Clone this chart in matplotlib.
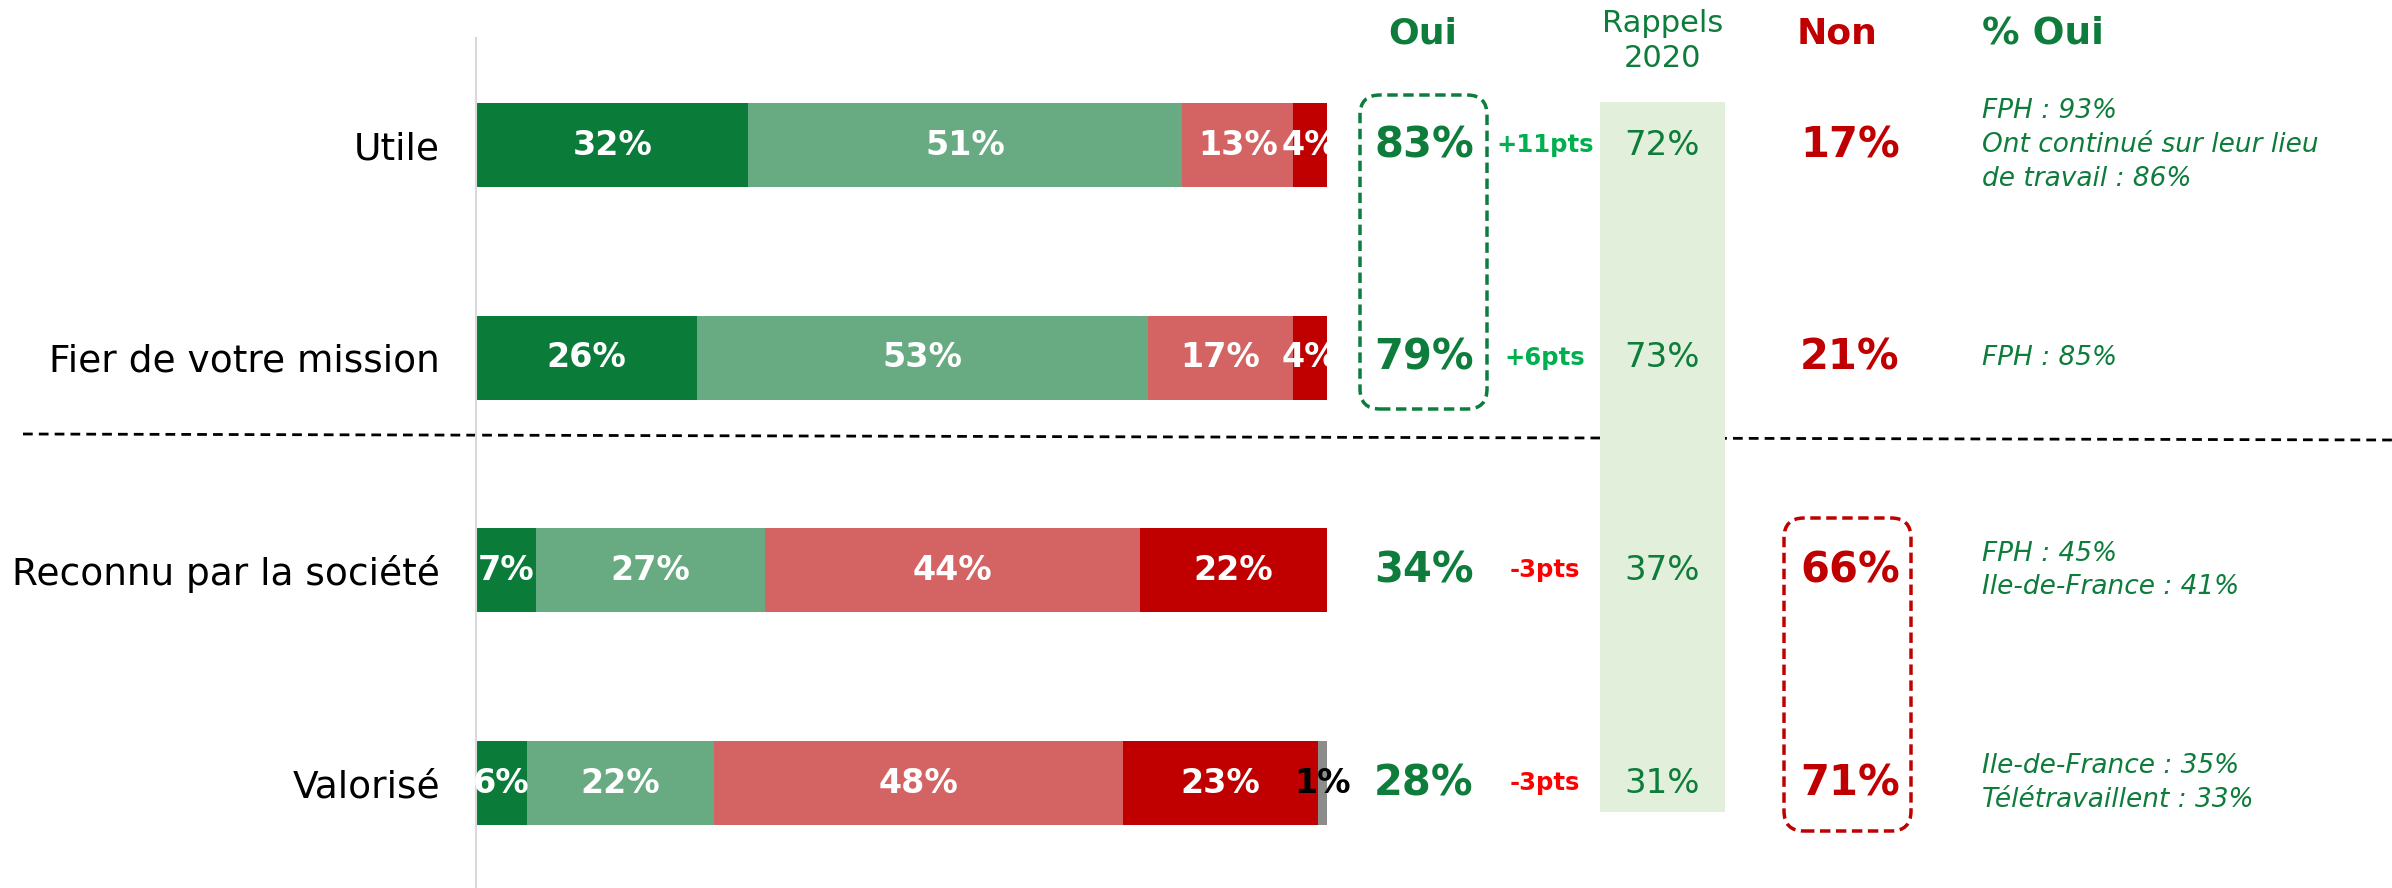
import matplotlib.pyplot as plt
import matplotlib.transforms as mtransforms
from matplotlib.patches import FancyBboxPatch, Rectangle
from matplotlib.lines import Line2D

# data
categories = ["Utile", "Fier de votre mission", "Reconnu par la société", "Valorisé"]
tout_a_fait = [32, 26, 7, 6]
plutot_oui = [51, 53, 27, 22]
plutot_non = [13, 17, 44, 48]
pas_du_tout = [4, 4, 22, 23]
nsp = [0, 0, 0, 1]
oui_total = [83, 79, 34, 28]
evolution = [11, 6, -3, -3]
rappels_2020 = [72, 73, 37, 31]
non_total = [17, 21, 66, 71]
notes = ["FPH : 93%\nOnt continué sur leur lieu\nde travail : 86%",
         "FPH : 85%",
         "FPH : 45%\nIle-de-France : 41%",
         "Ile-de-France : 35%\nTélétravaillent : 33%"]

GREEN = "#0E7C3B"
RED = "#C00000"
seg_colors = ["#0B7B3A", "#68AB82", "#D46363", "#C00000", "#8C8C8C"]

W, H = 2392, 888
fig = plt.figure(figsize=(W / 100, H / 100), dpi=100)
ax = fig.add_axes([476 / W, 0, 851 / W, 1])
ax.set_xlim(0, 100)
ax.set_ylim(3.493, -0.682)

# stacked bars
y = list(range(len(categories)))
left = [0] * len(categories)
for k, series in enumerate([tout_a_fait, plutot_oui, plutot_non, pas_du_tout, nsp]):
    ax.barh(y, series, left=left, height=0.395, color=seg_colors[k], zorder=2)
    for i, v in enumerate(series):
        if v > 0:
            ax.text(left[i] + v / 2, i, f"{v}%", ha="center", va="center",
                    color="black" if k == 4 else "white", fontsize=24,
                    fontweight="bold", zorder=4)
    left = [a + b for a, b in zip(left, series)]

ax.set_yticks(y, categories, fontsize=27)
ax.tick_params(axis="y", length=0, pad=26)
ax.set_xticks([])
for s in ["top", "right", "bottom"]:
    ax.spines[s].set_visible(False)
ax.spines["left"].set_color("#D9D9D9")
ax.spines["left"].set_linewidth(1.5)
ax.spines["left"].set_bounds(-0.503, 3.493)

inch = fig.dpi_scale_trans

def box(x0, y0, x1, y1):
    return (x0 / 100, (H - y1) / 100), (x1 - x0) / 100, (y1 - y0) / 100

# separator line and Rappels background
ax.add_line(Line2D([23 / 100, W / 100], [(H - 434) / 100, (H - 440) / 100],
                   transform=inch, color="black", lw=2, ls=(0, (3.5, 2.2)),
                   clip_on=False, zorder=1))
xy, w, h = box(1600, 102, 1725, 812)
ax.add_patch(Rectangle(xy, w, h, transform=inch, fc="#E2EFDA", ec="none",
                       clip_on=False, zorder=1.5))

# dashed rounded boxes
for (x0, y0, x1, y1), col in [((1360, 95, 1487, 409), GREEN), ((1784, 518, 1911, 831), RED)]:
    xy, w, h = box(x0, y0, x1, y1)
    ax.add_patch(FancyBboxPatch(xy, w, h, boxstyle="round,pad=0,rounding_size=0.2",
                                transform=inch, fill=False, ec=col, lw=2.5,
                                ls=(0, (3, 1.6)), clip_on=False, zorder=3))

# side columns
tr = mtransforms.blended_transform_factory(fig.transFigure, ax.transData)
for i in y:
    ax.text(1424 / W, i, f"{oui_total[i]}%", transform=tr, ha="center", va="center",
            color=GREEN, fontsize=30, fontweight="bold", clip_on=False, zorder=4)
    d = evolution[i]
    ax.text(1545 / W, i, f"{d:+d}pts", transform=tr, ha="center", va="center",
            color="#00B050" if d > 0 else "#FF0000", fontsize=17.5,
            fontweight="bold", clip_on=False, zorder=4)
    ax.text(1662 / W, i, f"{rappels_2020[i]}%", transform=tr, ha="center", va="center",
            color=GREEN, fontsize=24.5, clip_on=False, zorder=4)
    ax.text(1850 / W, i, f"{non_total[i]}%", transform=tr, ha="center", va="center",
            color=RED, fontsize=30, fontweight="bold", clip_on=False, zorder=4)
    ax.text(1982 / W, i, notes[i], transform=tr, ha="left", va="center",
            color=GREEN, fontsize=19, style="italic", linespacing=1.38,
            clip_on=False, zorder=4)

# headers
fig.text(1423 / W, 1 - 34 / H, "Oui", ha="center", va="center", color=GREEN,
         fontsize=26, fontweight="bold")
fig.text(1663 / W, 1 - 41 / H, "Rappels\n2020", ha="center", va="center",
         color=GREEN, fontsize=22, linespacing=1.3)
fig.text(1837 / W, 1 - 34 / H, "Non", ha="center", va="center", color=RED,
         fontsize=26, fontweight="bold")
fig.text(1982 / W, 1 - 34 / H, "% Oui", ha="left", va="center", color=GREEN,
         fontsize=27, fontweight="bold")

fig.savefig("out.png", dpi=100)
